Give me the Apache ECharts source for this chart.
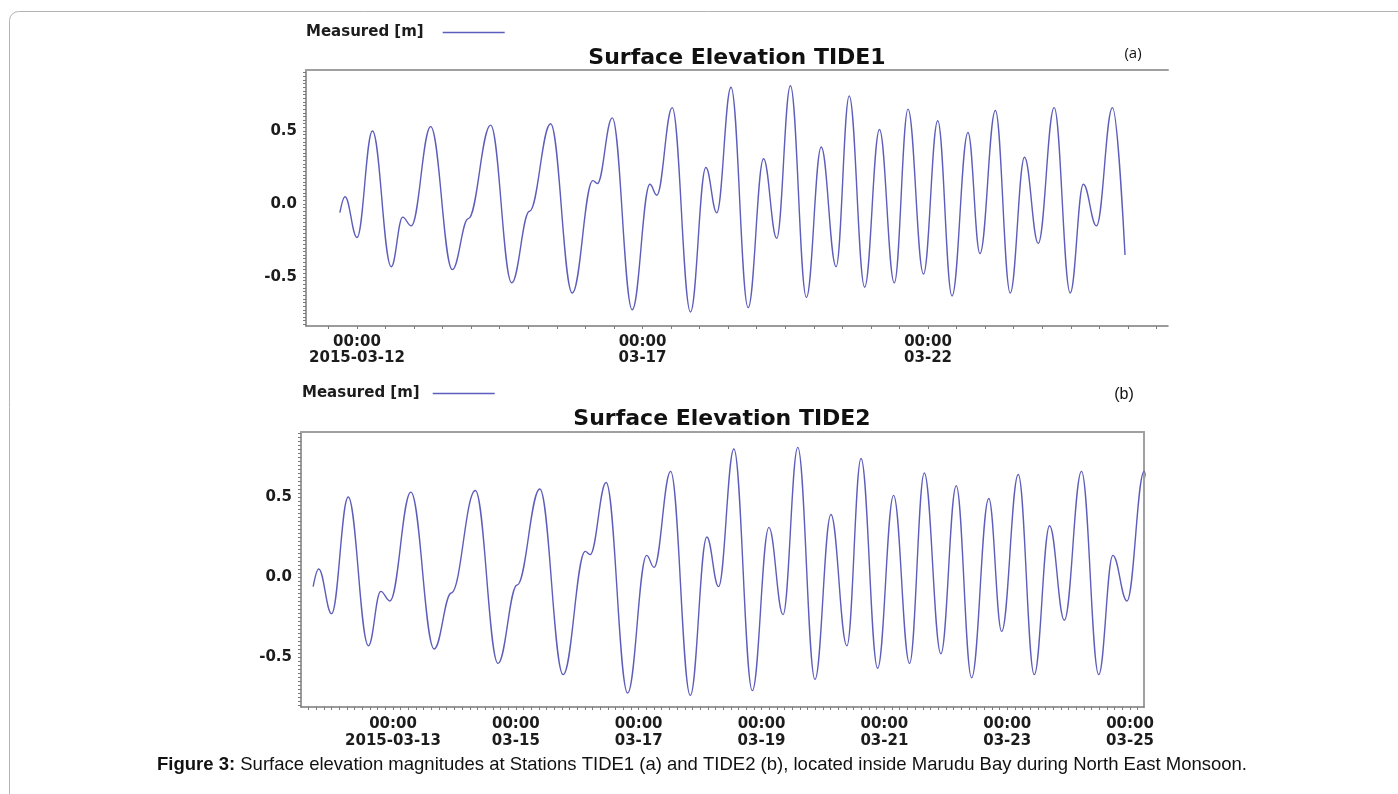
<!DOCTYPE html>
<html><head><meta charset="utf-8">
<script src="https://cdn.jsdelivr.net/npm/echarts@6/dist/echarts.min.js"></script>
<style>html,body{margin:0;padding:0;background:#fff}#chart{width:1398px;height:794px}</style>
</head><body><div id="chart"></div>
<script>
// ---- data (turning points of the record shown in both panels) ----
const times = [
  '2015-03-11 16:48','2015-03-11 18:58','2015-03-12 00:00','2015-03-12 06:29','2015-03-12 14:24',
  '2015-03-12 19:12','2015-03-12 22:48','2015-03-13 06:58','2015-03-13 16:05','2015-03-13 22:48',
  '2015-03-14 08:10','2015-03-14 17:02','2015-03-15 00:30','2015-03-15 09:22','2015-03-15 18:29',
  '2015-03-16 03:07','2015-03-16 05:02','2015-03-16 11:17','2015-03-16 19:41','2015-03-17 03:07',
  '2015-03-17 06:00','2015-03-17 12:29','2015-03-17 20:10','2015-03-18 02:38','2015-03-18 07:12',
  '2015-03-18 13:12','2015-03-18 20:24','2015-03-19 02:53','2015-03-19 08:24','2015-03-19 14:10',
  '2015-03-19 20:53','2015-03-20 03:07','2015-03-20 09:22','2015-03-20 14:53','2015-03-20 21:22',
  '2015-03-21 03:36','2015-03-21 09:50','2015-03-21 15:36','2015-03-21 22:05','2015-03-22 04:05',
  '2015-03-22 10:05','2015-03-22 16:48','2015-03-22 21:50','2015-03-23 04:19','2015-03-23 10:34',
  '2015-03-23 16:34','2015-03-23 22:19','2015-03-24 05:02','2015-03-24 11:46','2015-03-24 17:17',
  '2015-03-24 22:48','2015-03-25 05:31','2015-03-25 10:48'
];
const levels = [
  -0.06, 0.05, -0.23, 0.50, -0.43,
  -0.09, -0.15, 0.53, -0.45, -0.10,
  0.54, -0.54, -0.05, 0.55, -0.61,
  0.16, 0.14, 0.59, -0.725, 0.135,
  0.06, 0.66, -0.74, 0.25, -0.06,
  0.80, -0.71, 0.31, -0.235, 0.81,
  -0.64, 0.39, -0.43, 0.74, -0.57,
  0.51, -0.54, 0.65, -0.48, 0.57,
  -0.63, 0.49, -0.34, 0.64, -0.61,
  0.32, -0.27, 0.66, -0.61, 0.135,
  -0.15, 0.66, -0.35
];
const seriesName = 'Measured [m]';
const titleA = 'Surface Elevation TIDE1';
const titleB = 'Surface Elevation TIDE2';
const yLabelValues = [-0.5, 0.0, 0.5];
const xLabelDatesA = ['2015-03-12', '2015-03-17', '2015-03-22'];
const xLabelDatesB = ['2015-03-13', '2015-03-15', '2015-03-17', '2015-03-19', '2015-03-21', '2015-03-23', '2015-03-25'];
const caption = 'Surface elevation magnitudes at Stations TIDE1 (a) and TIDE2 (b), located inside Marudu Bay during North East Monsoon.';

// ---- helpers ----
function ts(s) {
  const [d, t] = s.split(' ');
  const [Y, M, D] = d.split('-').map(Number);
  const [h, m] = (t || '00:00').split(':').map(Number);
  return Date.UTC(Y, M - 1, D, h, m);
}
const HOUR = 3600 * 1000;
function tickList(start, end, stepH) {
  const out = [];
  for (let v = ts(start); v <= ts(end); v += stepH * HOUR) out.push(v);
  return out;
}
function yTicks(lo, hi, step) {
  const out = [];
  for (let k = Math.ceil(lo / step); k * step <= hi; k++) out.push(+(k * step).toFixed(4));
  return out;
}
function labelMap(dates) {
  const m = {};
  dates.forEach((d, i) => { m[ts(d)] = '00:00\n' + (i === 0 ? d : d.slice(5)); });
  return m;
}
const data = times.map((t, i) => [ts(t), levels[i]]);
const mapA = labelMap(xLabelDatesA), mapB = labelMap(xLabelDatesB);

const FONT = 'DejaVu Sans';
const axisColor = '#7a7a7a';
const lineColor = '#5d5dbb';
const labelStyle = { fontFamily: FONT, fontWeight: 'bold', fontSize: 15, color: '#1c1c1c' };

const yMinA = -0.836, yMaxA = 0.918, yMinB = -0.8125, yMaxB = 0.906;

function bottomX(grid, min, max, ticks, labels, map, lh, margin) {
  return {
    gridIndex: grid, type: 'value', min: ts(min), max: ts(max), scale: true,
    axisLine: { show: true, onZero: false, lineStyle: { color: axisColor, width: 1.5 } },
    axisTick: { show: true, customValues: ticks, length: 3, inside: false, lineStyle: { color: axisColor } },
    axisLabel: Object.assign({ customValues: labels.map(ts), formatter: v => map[v] || '', lineHeight: lh, margin: margin, hideOverlap: false }, labelStyle),
    splitLine: { show: false }, minorTick: { show: false }
  };
}
function leftY(grid, min, max) {
  return {
    gridIndex: grid, type: 'value', min: min, max: max,
    axisLine: { show: true, onZero: false, lineStyle: { color: axisColor, width: 1.5 } },
    axisTick: { show: true, customValues: yTicks(min, max, 0.025), length: 3, lineStyle: { color: axisColor } },
    axisLabel: Object.assign({ customValues: yLabelValues, formatter: v => Number(v).toFixed(1), margin: 9 }, labelStyle),
    splitLine: { show: false }
  };
}
function frameAxis(grid, pos) {
  return {
    gridIndex: grid, type: 'value', position: pos, min: 0, max: 1,
    axisLine: { show: true, onZero: false, lineStyle: { color: '#a0a0a0', width: 2 } },
    axisTick: { show: false }, axisLabel: { show: false }, splitLine: { show: false }
  };
}
function lineSeries(ix) {
  return {
    name: seriesName, type: 'line', xAxisIndex: ix, yAxisIndex: ix, data: data, showSymbol: false,
    smooth: 0.4, smoothMonotone: 'x', clip: true,
    lineStyle: { color: lineColor, width: 1.4 }, itemStyle: { color: lineColor }
  };
}

const chart = echarts.init(document.getElementById('chart'));
chart.setOption({
  animation: false,
  backgroundColor: '#ffffff',
  graphic: [{
    type: 'rect', silent: true, z: -10,
    shape: { x: 9.5, y: 11.5, width: 1420, height: 820, r: 9 },
    style: { fill: 'none', stroke: '#b4b4b4', lineWidth: 1 }
  }],
  title: [
    { text: titleA, left: 737, top: 58, textAlign: 'center', textVerticalAlign: 'middle', padding: 0,
      textStyle: { fontFamily: FONT, fontWeight: 'bold', fontSize: 22, color: '#111' } },
    { text: titleB, left: 722, top: 419, textAlign: 'center', textVerticalAlign: 'middle', padding: 0,
      textStyle: { fontFamily: FONT, fontWeight: 'bold', fontSize: 22, color: '#111' } },
    { text: '(a)', left: 1133, top: 54, textAlign: 'center', textVerticalAlign: 'middle', padding: 0,
      textStyle: { fontFamily: 'Open Sans', fontWeight: 'normal', fontSize: 15, color: '#111' } },
    { text: '(b)', left: 1124, top: 395, textAlign: 'center', textVerticalAlign: 'middle', padding: 0,
      textStyle: { fontFamily: 'Liberation Sans', fontWeight: 'normal', fontSize: 16, color: '#111' } },
    { text: '{b|Figure 3:} ' + caption, left: 702, top: 765, textAlign: 'center', textVerticalAlign: 'middle', padding: 0,
      textStyle: { fontFamily: 'Liberation Sans', fontWeight: 'normal', fontSize: 18.5, color: '#111',
        rich: { b: { fontFamily: 'Liberation Sans', fontWeight: 'bold', fontSize: 18.5, color: '#111' } } } }
  ],
  legend: [
    { data: [seriesName], left: 306, top: 25, padding: 0, align: 'right', icon: 'rect', itemWidth: 62, itemHeight: 1.5,
      textStyle: Object.assign({}, labelStyle, { padding: [0, 14, 0, 0] }) },
    { data: [seriesName], left: 302, top: 386, padding: 0, align: 'right', icon: 'rect', itemWidth: 62, itemHeight: 1.5,
      textStyle: Object.assign({}, labelStyle, { padding: [0, 8, 0, 0] }) }
  ],
  grid: [
    { left: 306, top: 70, width: 862, height: 256 },
    { left: 301, top: 432, width: 843, height: 275 }
  ],
  xAxis: [
    bottomX(0, '2015-03-11 02:34', '2015-03-26 04:52', tickList('2015-03-11 12:00', '2015-03-26 00:00', 12), xLabelDatesA, mapA, 16, 8),
    bottomX(1, '2015-03-11 12:03', '2015-03-25 05:27', tickList('2015-03-11 12:00', '2015-03-25 03:00', 3), xLabelDatesB, mapB, 17, 9),
    frameAxis(0, 'top'),
    frameAxis(1, 'top')
  ],
  yAxis: [
    leftY(0, yMinA, yMaxA),
    leftY(1, yMinB, yMaxB),
    frameAxis(1, 'right')
  ],
  series: [lineSeries(0), lineSeries(1)]
});
</script></body></html>
